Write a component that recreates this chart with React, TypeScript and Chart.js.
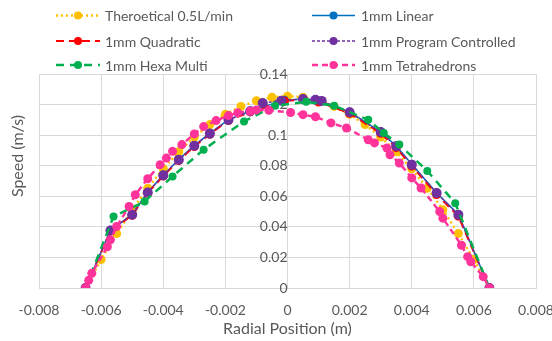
import React, { useEffect, useRef } from "react";
import { Chart, registerables } from "chart.js";

Chart.register(...registerables);

// ---------- DATA ----------
const theoX = [-0.0065, -0.006, -0.0055, -0.005, -0.0045, -0.004, -0.0035, -0.003, -0.0025, -0.002, -0.0015, -0.001, -0.0005, 0, 0.0005, 0.001, 0.0015, 0.002, 0.0025, 0.003, 0.0035, 0.004, 0.0045, 0.005, 0.0055, 0.006, 0.0065];
const theoY = [0, 0.0186, 0.0356, 0.0512, 0.0653, 0.078, 0.0891, 0.0988, 0.1069, 0.1136, 0.1188, 0.1225, 0.1248, 0.1255, 0.1248, 0.1225, 0.1188, 0.1136, 0.1069, 0.0988, 0.0891, 0.078, 0.0653, 0.0512, 0.0356, 0.0186, 0];

const linX = [-0.0065, -0.0057, -0.005, -0.0045, -0.004, -0.0035, -0.003, -0.0025, -0.0019, -0.0012, -0.0001, 0.0005, 0.001, 0.002, 0.003, 0.0035, 0.004, 0.0048, 0.0055, 0.0065];
const linY = [0, 0.0378, 0.0481, 0.0627, 0.0739, 0.0841, 0.0933, 0.1012, 0.1102, 0.1158, 0.1229, 0.1236, 0.1224, 0.1152, 0.1022, 0.0929, 0.0809, 0.0623, 0.0481, 0];

const quadX = [-0.0065, -0.0057, -0.005, -0.0045, -0.004, -0.0035, -0.003, -0.0025, -0.0019, -0.0012, -0.0001, 0.0005, 0.001, 0.002, 0.003, 0.0035, 0.004, 0.0048, 0.0055, 0.0065];
const quadY = [0, 0.0372, 0.0476, 0.0621, 0.0733, 0.0834, 0.0926, 0.1006, 0.1096, 0.1152, 0.1224, 0.1232, 0.1217, 0.1143, 0.1012, 0.0918, 0.0798, 0.0612, 0.047, 0];

const progX = [-0.0065, -0.0057, -0.005, -0.0045, -0.004, -0.0035, -0.003, -0.0025, -0.0019, -0.0012, -0.0008, -0.0002, 0.0005, 0.0009, 0.0011, 0.002, 0.003, 0.0035, 0.004, 0.0048, 0.0055, 0.0065];
const progY = [0, 0.0376, 0.0479, 0.0625, 0.0737, 0.0839, 0.0931, 0.101, 0.11, 0.1156, 0.121, 0.1225, 0.1236, 0.1232, 0.1224, 0.115, 0.102, 0.0927, 0.0807, 0.0621, 0.0479, 0];

const hexaX = [-0.0065, -0.0056, -0.0046, -0.0037, -0.0027, -0.0014, -0.0004, 0.0006, 0.0015, 0.0026, 0.0031, 0.0036, 0.0045, 0.0054, 0.0065];
const hexaY = [0, 0.0468, 0.0566, 0.073, 0.0905, 0.109, 0.1193, 0.1218, 0.1193, 0.11, 0.1014, 0.0938, 0.0766, 0.0555, 0];

const tetraX = [-0.0065, -0.0064, -0.0063, -0.0058, -0.0057, -0.0055, -0.0051, -0.0049, -0.0045, -0.0041, -0.0039, -0.0037, -0.0034, -0.003, -0.0027, -0.0023, -0.0019, -0.0016, -0.0012, -0.001, -0.0006, 0.0001, 0.0005, 0.0009, 0.0014, 0.0019, 0.0026, 0.0028, 0.0032, 0.0033, 0.0036, 0.004, 0.0043, 0.0049, 0.005, 0.0056, 0.0058, 0.0059, 0.0063, 0.0065];
const tetraY = [0, 0.005, 0.0096, 0.027, 0.0315, 0.0402, 0.0533, 0.061, 0.0715, 0.0807, 0.085, 0.0894, 0.0938, 0.1008, 0.1056, 0.1095, 0.1128, 0.1146, 0.1156, 0.1165, 0.1163, 0.1148, 0.1134, 0.112, 0.108, 0.1047, 0.097, 0.0949, 0.0916, 0.0872, 0.0818, 0.072, 0.0654, 0.05, 0.0457, 0.028, 0.0205, 0.0172, 0.0074, 0];

const xTicks = [-0.008, -0.006, -0.004, -0.002, 0, 0.002, 0.004, 0.006, 0.008];
const yTicks = [0, 0.02, 0.04, 0.06, 0.08, 0.1, 0.12, 0.14];

const seriesNames = ["Theroetical 0.5L/min", "1mm Linear", "1mm Quadratic", "1mm Program Controlled", "1mm Hexa Multi", "1mm Tetrahedrons"];
const xTitle = "Radial Position (m)";
const yTitle = "Speed (m/s)";

const FONT = "Lato, 'Open Sans', sans-serif";
const TEXT = "#595959";
const GRID = "#d9d9d9";

const pts = (xs: number[], ys: number[]) => xs.map((x, i) => ({ x, y: ys[i] }));

type Style = { color: string; dash: number[]; width: number; radius: number };
const styles: Style[] = [
  { color: "#FFC000", dash: [2, 3], width: 2.5, radius: 4.5 },
  { color: "#0070C0", dash: [], width: 1.5, radius: 4.5 },
  { color: "#FF0000", dash: [8, 5], width: 2, radius: 4.5 },
  { color: "#7030A0", dash: [3, 2], width: 1.5, radius: 5 },
  { color: "#00B050", dash: [8, 6], width: 2.5, radius: 4 },
  { color: "#FF3399", dash: [6, 4], width: 2.5, radius: 4.5 },
];
const drawOrder = [5, 4, 3, 2, 1, 0];

const legendPlugin = {
  id: "customLegend",
  afterDraw(chart: any) {
    const ctx = chart.ctx;
    const cols = [{ x0: 56, x1: 100, tx: 105 }, { x0: 312, x1: 355, tx: 361 }];
    const rows = [15.5, 41, 65];
    ctx.save();
    seriesNames.forEach((name, i) => {
      const c = cols[i % 2];
      const y = rows[Math.floor(i / 2)];
      const s = styles[i];
      ctx.strokeStyle = s.color;
      ctx.lineWidth = s.width;
      ctx.setLineDash(s.dash);
      ctx.beginPath();
      ctx.moveTo(c.x0, y);
      ctx.lineTo(c.x1, y);
      ctx.stroke();
      ctx.setLineDash([]);
      ctx.fillStyle = s.color;
      ctx.beginPath();
      ctx.arc((c.x0 + c.x1) / 2, y, 4, 0, Math.PI * 2);
      ctx.fill();
      ctx.fillStyle = TEXT;
      ctx.font = `14px ${FONT}`;
      ctx.textAlign = "left";
      ctx.textBaseline = "middle";
      ctx.fillText(name, c.tx, y + 1);
    });
    // axis titles
    const area = chart.chartArea;
    ctx.font = `16px ${FONT}`;
    ctx.textAlign = "center";
    ctx.textBaseline = "middle";
    ctx.fillStyle = TEXT;
    ctx.fillText(xTitle, (area.left + area.right) / 2, 329);
    ctx.translate(18, 156);
    ctx.rotate(-Math.PI / 2);
    ctx.fillText(yTitle, 0, 0);
    ctx.restore();
  },
};

export default function App() {
  const ref = useRef<HTMLCanvasElement>(null);
  useEffect(() => {
    if (!ref.current) return;
    const data = [pts(theoX, theoY), pts(linX, linY), pts(quadX, quadY), pts(progX, progY), pts(hexaX, hexaY), pts(tetraX, tetraY)];
    const chart = new Chart(ref.current, {
      type: "scatter",
      data: {
        datasets: data.map((d, i) => ({
          label: seriesNames[i],
          data: d,
          showLine: true,
          borderColor: styles[i].color,
          backgroundColor: styles[i].color,
          borderWidth: styles[i].width,
          borderDash: styles[i].dash,
          pointRadius: styles[i].radius,
          pointBorderWidth: 0,
          pointBackgroundColor: styles[i].color,
          order: drawOrder[i],
          tension: 0,
        })),
      },
      options: {
        animation: false,
        responsive: false,
        maintainAspectRatio: false,
        layout: { padding: { top: 74, left: 39, right: 16, bottom: 9 } },
        plugins: { legend: { display: false }, tooltip: { enabled: false } },
        scales: {
          x: {
            type: "linear",
            min: -0.008,
            max: 0.008,
            afterBuildTicks: (s: any) => { s.ticks = xTicks.map((v) => ({ value: v })); },
            afterFit: (s: any) => { s.paddingLeft = 0; s.paddingRight = 0; },
            ticks: {
              color: TEXT,
              font: { family: FONT, size: 14 },
              padding: 13.6,
              maxRotation: 0,
              callback: (v: any) => (Number(v) === 0 ? "0" : Number(v).toFixed(3)),
            },
            grid: { color: GRID, drawTicks: false },
            border: { color: GRID },
          },
          y: {
            type: "linear",
            position: { x: 0 } as any,
            min: 0,
            max: 0.14,
            afterBuildTicks: (s: any) => { s.ticks = yTicks.map((v) => ({ value: v })); },
            afterFit: (s: any) => { s.paddingTop = 0; s.paddingBottom = 0; },
            ticks: {
              color: TEXT,
              font: { family: FONT, size: 14 },
              padding: 5,
              callback: (v: any) => String(Number(Number(v).toFixed(2))),
            },
            grid: { color: GRID, drawTicks: false },
            border: { color: GRID },
          },
        },
      },
      plugins: [legendPlugin],
    });
    return () => chart.destroy();
  }, []);
  return (
    <div style={{ position: "fixed", left: 0, top: 0, width: 552, height: 341, background: "#fff" }}>
      <canvas ref={ref} width={552} height={341} style={{ width: 552, height: 341 }} />
    </div>
  );
}
